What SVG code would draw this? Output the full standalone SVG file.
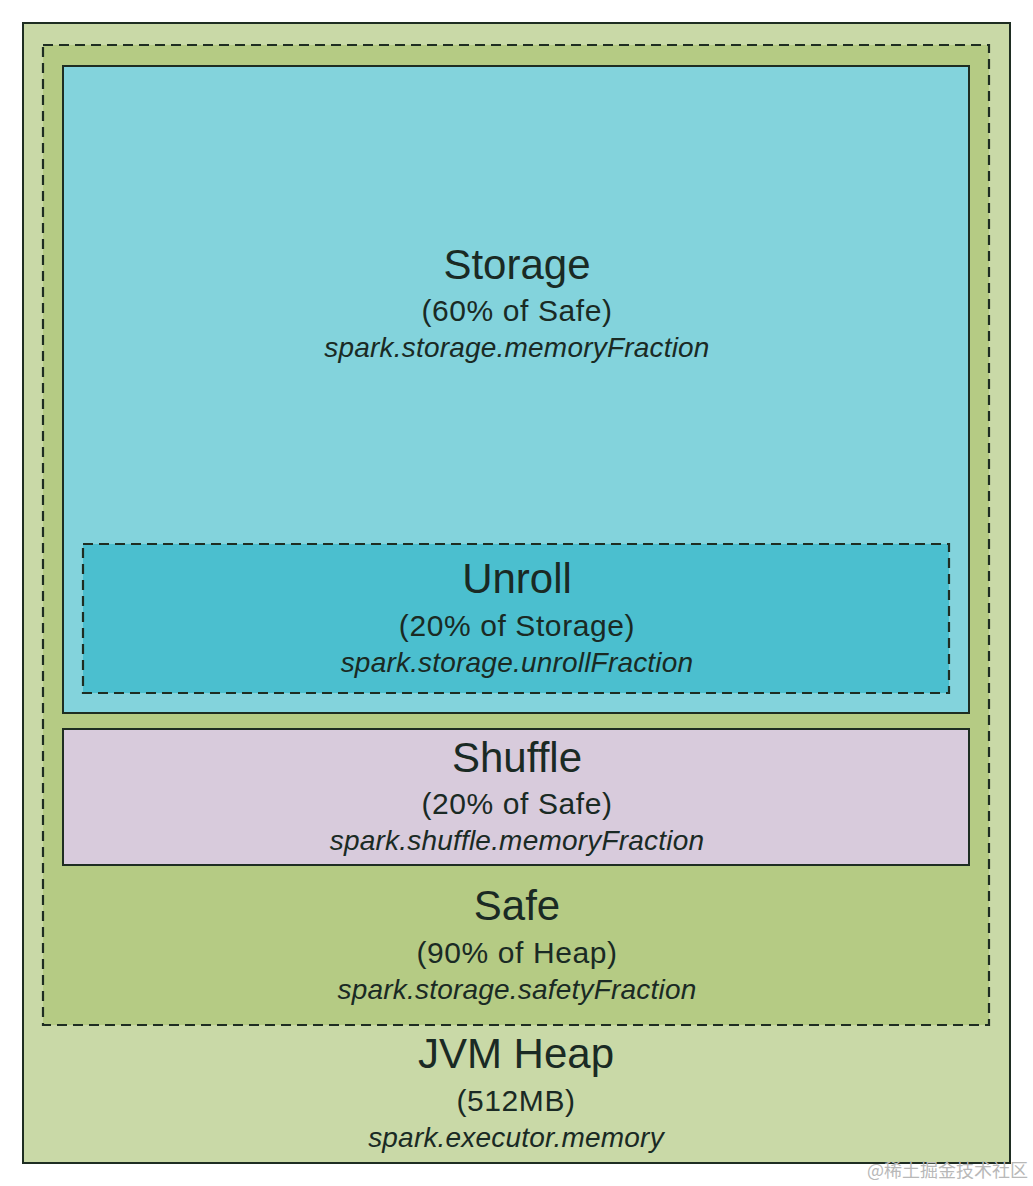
<svg xmlns="http://www.w3.org/2000/svg" width="1033" height="1186" viewBox="0 0 1033 1186">
<style>
.t{font-family:"Liberation Sans",Arial,sans-serif;fill:#1a2a24;text-anchor:middle}
.h{font-size:42px}
.s{font-size:30px;letter-spacing:0.6px}
.i{font-size:28px;font-style:italic;letter-spacing:0.2px}
.solid{stroke:#1e2d22;stroke-width:2}
.dash{stroke:#1e2d22;stroke-width:2.2;stroke-dasharray:10,6;fill:none}
</style>
<rect width="1033" height="1186" fill="#ffffff"/>
<g id="jvm-heap">
<rect x="23" y="23" width="987" height="1140" fill="#c9d9a7" class="solid"/>
<text class="t h" x="516" y="1068">JVM Heap</text>
<text class="t s" x="516" y="1111">(512MB)</text>
<text class="t i" x="516" y="1147">spark.executor.memory</text>
</g>
<g id="safe">
<rect x="43" y="45" width="946" height="980" fill="#b5cb84"/>
<rect x="43" y="45" width="946" height="980" class="dash"/>
<text class="t h" x="517" y="920">Safe</text>
<text class="t s" x="517" y="963">(90% of Heap)</text>
<text class="t i" x="517" y="999">spark.storage.safetyFraction</text>
</g>
<g id="storage">
<rect x="63" y="66" width="906" height="647" fill="#83d3dc" class="solid"/>
<text class="t h" x="517" y="279">Storage</text>
<text class="t s" x="517" y="321">(60% of Safe)</text>
<text class="t i" x="517" y="357">spark.storage.memoryFraction</text>
</g>
<g id="unroll">
<rect x="83" y="544" width="866" height="149" fill="#4bbfcf"/>
<rect x="83" y="544" width="866" height="149" class="dash"/>
<text class="t h" x="517" y="593">Unroll</text>
<text class="t s" x="517" y="636">(20% of Storage)</text>
<text class="t i" x="517" y="672">spark.storage.unrollFraction</text>
</g>
<g id="shuffle">
<rect x="63" y="729" width="906" height="136" fill="#d8cbdc" class="solid"/>
<text class="t h" x="517" y="772">Shuffle</text>
<text class="t s" x="517" y="814">(20% of Safe)</text>
<text class="t i" x="517" y="850">spark.shuffle.memoryFraction</text>
</g>
<g id="connectors"></g>
<text x="1028" y="1177" font-family="'Noto Sans CJK SC',sans-serif" font-size="18" fill="#b8b8b8" text-anchor="end">@稀土掘金技术社区</text>
</svg>
